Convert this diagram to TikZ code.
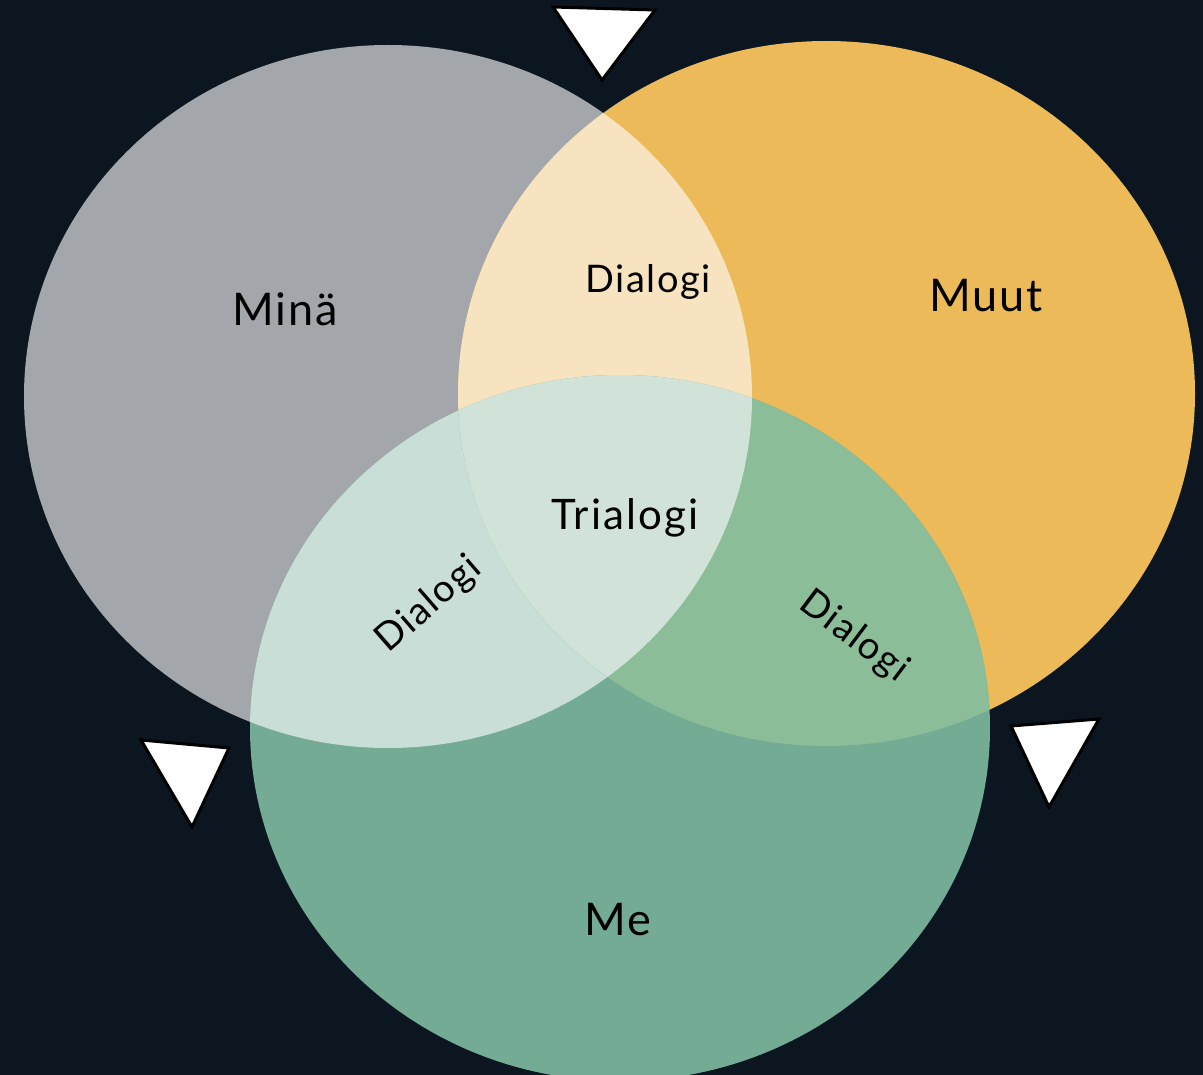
\documentclass[tikz,border=0pt]{standalone}
\usepackage{fontspec}
\setmainfont{Lato}
\newfontfamily\labfont[LetterSpace=4]{Lato}
\newfontfamily\trifont[LetterSpace=5]{Lato}
\definecolor{bgc}{HTML}{0B1621}
\definecolor{grayc}{HTML}{A3A6AB}
\definecolor{orangec}{HTML}{ECBA58}
\definecolor{greenc}{HTML}{74AB95}
\definecolor{goc}{HTML}{F7E3BF}
\definecolor{ggc}{HTML}{C8DED6}
\definecolor{ogc}{HTML}{8BBD99}
\definecolor{triplec}{HTML}{D1E3D8}
\tikzset{
  lab/.style={text=black, inner sep=0pt},
  biglab/.style={lab, font=\labfont\fontsize{45}{50}\selectfont},
  midlab/.style={lab, font=\trifont\fontsize{42}{48}\selectfont},
  smalllab/.style={lab, font=\labfont\fontsize{38}{44}\selectfont},
  marker/.style={fill=white, draw=black, line width=3pt, line join=miter}
}
\def\grayE{(388,396.5) ellipse [x radius=364, y radius=351.5]}
\def\orangeE{(826.5,393.5) ellipse [x radius=368.5, y radius=352.5]}
\def\greenE{(620,728) ellipse [x radius=370, y radius=353]}
\begin{document}
\begin{tikzpicture}[x=1pt,y=-1pt]
\useasboundingbox (0,0) rectangle (1203,1075);
\clip (0,0) rectangle (1203,1075);
\fill[bgc] (0,0) rectangle (1203,1075);
% circles
\fill[grayc] \grayE;
\fill[orangec] \orangeE;
\fill[greenc] \greenE;
% pairwise overlaps
\begin{scope}\clip \grayE; \fill[goc] \orangeE; \end{scope}
\begin{scope}\clip \grayE; \fill[ggc] \greenE; \end{scope}
\begin{scope}\clip \orangeE; \fill[ogc] \greenE; \end{scope}
% triple overlap
\begin{scope}\clip \grayE; \clip \orangeE; \fill[triplec] \greenE; \end{scope}
% labels
\node[biglab] (mina) at (285,309) {Minä};
\node[biglab] (muut) at (986,296) {Muut};
\node[biglab] (me) at (618,920) {Me};
\node[smalllab] (dtop) at (648,282) {Dialogi};
\node[midlab] (tri) at (625,518) {Trialogi};
\node[smalllab, rotate=41] (dleft) at (429,605) {Dialogi};
\node[smalllab, rotate=-37] (dright) at (854,637) {Dialogi};
% markers
\draw[marker] (553,7) -- (655,10) -- (602,80) -- cycle;
\draw[marker] (141,740) -- (229,748) -- (192,827) -- cycle;
\draw[marker] (1011,726) -- (1099,719) -- (1049,807) -- cycle;
\end{tikzpicture}
\end{document}
